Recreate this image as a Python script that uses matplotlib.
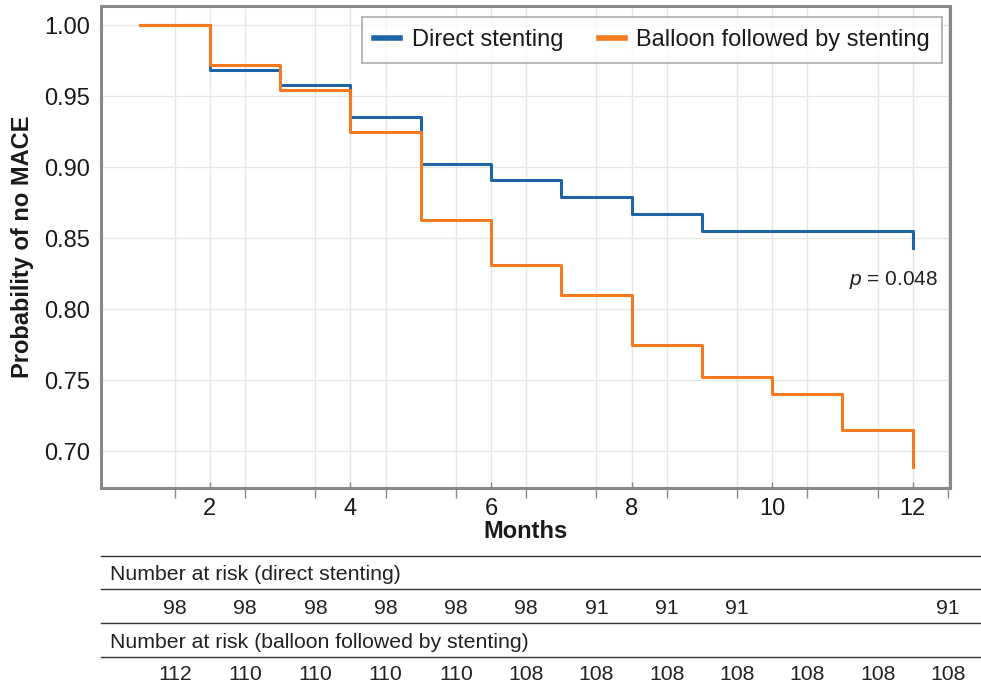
import matplotlib
matplotlib.use("Agg")
import matplotlib.pyplot as plt
from matplotlib.lines import Line2D
from matplotlib.transforms import blended_transform_factory

plt.rcParams['font.family'] = ['Liberation Sans', 'DejaVu Sans']
plt.rcParams['mathtext.fontset'] = 'custom'
plt.rcParams['mathtext.it'] = 'Liberation Sans:italic'
plt.rcParams['mathtext.rm'] = 'Liberation Sans'

# ---- data ----
months = [1, 2, 3, 4, 5, 6, 7, 8, 9, 10, 11, 12]
direct_surv = [1.00, 0.968, 0.958, 0.935, 0.902, 0.891, 0.879, 0.867, 0.855, 0.855, 0.855, 0.843]
balloon_surv = [1.00, 0.972, 0.954, 0.925, 0.863, 0.831, 0.810, 0.775, 0.752, 0.740, 0.715, 0.689]
risk_direct = ["98", "98", "98", "98", "98", "98", "91", "91", "91", "", "", "91"]
risk_balloon = ["112", "110", "110", "110", "110", "108", "108", "108", "108", "108", "108", "108"]
x_ticks = [2, 4, 6, 8, 10, 12]
y_ticks = [0.70, 0.75, 0.80, 0.85, 0.90, 0.95, 1.00]
series_names = ["Direct stenting", "Balloon followed by stenting"]
risk_headers = ["Number at risk (direct stenting)", "Number at risk (balloon followed by stenting)"]
p_text = "$p$ = 0.048"

blue = '#1f64a6'
orange = '#f47a20'

W, H = 981, 690
fig = plt.figure(figsize=(W / 100, H / 100), dpi=100)
ax = fig.add_axes([101 / W, 1 - 488 / H, (950 - 101) / W, (488 - 6) / H])

ax.plot(months, direct_surv, drawstyle='steps-post', color=blue, lw=2.2, label=series_names[0])
ax.plot(months, balloon_surv, drawstyle='steps-post', color=orange, lw=2.2, label=series_names[1])

ax.set_xlim(0.45, 12.53)
ax.set_ylim(0.674, 1.0134)

minor_pos = [m + 0.5 for m in months]
ax.set_xticks(x_ticks)
ax.set_xticks(minor_pos, minor=True)
ax.set_yticks(y_ticks)
ax.set_yticklabels([f"{v:.2f}" for v in y_ticks])
ax.tick_params(axis='x', which='major', direction='in', length=4, width=1, color='#888888',
               labelsize=17, pad=7, labelcolor='#1a1a1a')
ax.tick_params(axis='x', which='minor', direction='out', length=7, width=1, color='#888888')
ax.tick_params(axis='y', which='major', length=0, labelsize=17, pad=8, labelcolor='#1a1a1a')

ax.grid(True, which='major', color='#e6e6e6', lw=1)
ax.grid(True, which='minor', axis='x', color='#e6e6e6', lw=1)
ax.set_axisbelow(True)
for s in ax.spines.values():
    s.set_color('#888888')
    s.set_linewidth(2.2)

ax.set_xlabel("Months", fontsize=17, fontweight='bold', labelpad=0, color='#1a1a1a')
ax.set_ylabel("Probability of no MACE", fontsize=17, fontweight='bold', labelpad=7, color='#1a1a1a')

leg = ax.legend(loc='upper right', bbox_to_anchor=(942 / W, 1 - 17 / H), bbox_transform=fig.transFigure,
                ncol=2, fontsize=17, frameon=True, fancybox=False, handlelength=1.1,
                handletextpad=0.5, columnspacing=1.5, borderpad=0.5, borderaxespad=0)
leg.get_frame().set_edgecolor('#999999')
leg.get_frame().set_linewidth(1.2)
for h in leg.get_lines():
    h.set_linewidth(4)
for t in leg.get_texts():
    t.set_color('#1a1a1a')

ax.text(12.36, 0.8204, p_text, fontsize=15, ha='right', va='center', color='#222222')

# ---- number at risk table ----
trans = blended_transform_factory(ax.transData, fig.transFigure)
line_ys = [556, 589, 623, 657]
for ly in line_ys:
    fig.add_artist(Line2D([101 / W, 980 / W], [1 - ly / H, 1 - ly / H], color='#333333', lw=1))
row_ys = [574, 608, 642, 675]
fig.text(110 / W, 1 - row_ys[0] / H, risk_headers[0], fontsize=15.3, va='center', ha='left', color='#222222')
fig.text(110 / W, 1 - row_ys[2] / H, risk_headers[1], fontsize=15.3, va='center', ha='left', color='#222222')
for xpos, v in zip(minor_pos, risk_direct):
    ax.text(xpos, 1 - row_ys[1] / H, v, transform=trans, fontsize=15.3, ha='center', va='center',
            clip_on=False, color='#222222')
for xpos, v in zip(minor_pos, risk_balloon):
    ax.text(xpos, 1 - row_ys[3] / H, v, transform=trans, fontsize=15.3, ha='center', va='center',
            clip_on=False, color='#222222')

fig.savefig("out.png", dpi=100)
